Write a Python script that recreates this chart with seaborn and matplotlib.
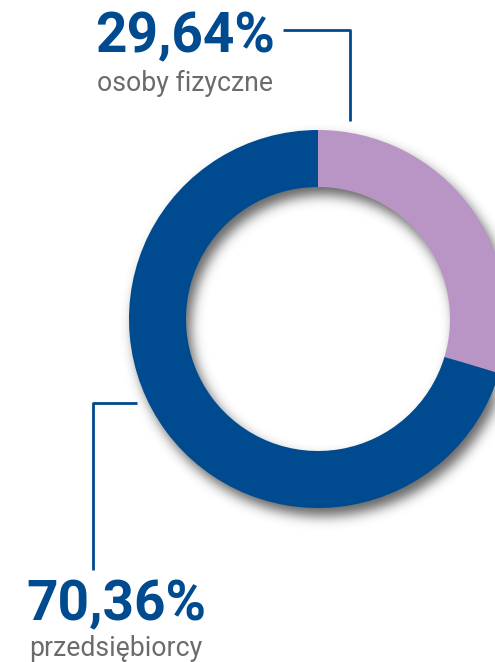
import numpy as np
import seaborn as sns
import matplotlib.pyplot as plt

# Dane
labels = ['osoby fizyczne', 'przedsiębiorcy']
values = [29.64, 70.36]
value_labels = ['29,64%', '70,36%']
colors = ['#b995c5', '#004a8f']

sns.set_style('white')
plt.rcParams['font.family'] = ['Roboto', 'DejaVu Sans']

W, H = 495, 662
fig = plt.figure(figsize=(W / 100, H / 100), dpi=100)
ax = fig.add_axes([0, 0, 1, 1])

cx, cy = 318, H - 319
r_out, r_in = 189, 132

# Cień pod pierścieniem (rozmyty)
yy, xx = np.mgrid[0:H, 0:W]
dist = np.hypot(xx + 0.5 - (cx + 5), (H - yy - 0.5) - (cy - 8))
mask = ((dist <= r_out) & (dist >= r_in)).astype(float)
k = np.exp(-0.5 * (np.arange(-18, 19) / 6.0) ** 2)
k /= k.sum()
blur = np.apply_along_axis(lambda m: np.convolve(m, k, mode='same'), 0, mask)
blur = np.apply_along_axis(lambda m: np.convolve(m, k, mode='same'), 1, blur)
shadow = np.zeros((H, W, 4))
shadow[..., :3] = 0.25
shadow[..., 3] = blur * 0.8
ax.imshow(shadow, extent=(0, W, 0, H), origin='upper', zorder=1)

# Wykres pierścieniowy
ax.pie(values, colors=colors, startangle=90, counterclock=False,
       center=(cx, cy), radius=r_out,
       wedgeprops=dict(width=r_out - r_in, linewidth=0), frame=True)
ax.set_xlim(0, W)
ax.set_ylim(0, H)
ax.set_aspect('equal')
ax.axis('off')
for p in ax.patches:
    p.set_zorder(2)

# Linie odniesienia
line_kw = dict(color='#004a8f', lw=2, solid_capstyle='butt')
ax.plot([283, 350, 350], [H - 30, H - 30, H - 121], **line_kw)
ax.plot([137, 93, 93], [H - 403, H - 403, H - 570], **line_kw)

# Teksty
ax.text(95, H - 52, value_labels[0], fontsize=39.5, fontweight='bold',
        color='#004a8f', ha='left', va='baseline')
ax.text(97, H - 91, labels[0], fontsize=19.2, color='#6b6b6b',
        ha='left', va='baseline')
ax.text(26, H - 620, value_labels[1], fontsize=39.5, fontweight='bold',
        color='#004a8f', ha='left', va='baseline')
ax.text(29, H - 656, labels[1], fontsize=19.2, color='#6b6b6b',
        ha='left', va='baseline')

plt.savefig('out.png', dpi=100)
